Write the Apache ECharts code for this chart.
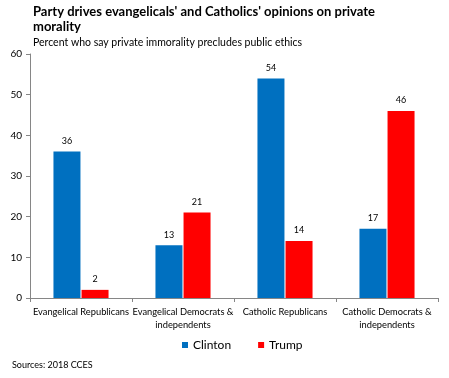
<!DOCTYPE html>
<html><head><meta charset="utf-8">
<script src="https://cdn.jsdelivr.net/npm/echarts@6/dist/echarts.min.js"></script>
<style>html,body{margin:0;padding:0;background:#fff}#c{width:449px;height:378px}</style>
</head><body><div id="c"></div>
<script>
const categories = ["Evangelical Republicans", "Evangelical Democrats &\nindependents", "Catholic Republicans", "Catholic Democrats &\nindependents"];
const clinton = [36, 13, 54, 17];
const trump = [2, 21, 14, 46];
const yTicks = [0, 10, 20, 30, 40, 50, 60];

const FONT = "Lato";
const chart = echarts.init(document.getElementById('c'));
chart.setOption({
  animation: false,
  textStyle: {fontFamily: FONT},
  title: [
    {text: "Party drives evangelicals' and Catholics' opinions on private\nmorality", left: 33, top: 4, padding: 0,
     textStyle: {fontFamily: FONT, fontSize: 13, fontWeight: 'bold', color: '#000', lineHeight: 15}},
    {text: "Percent who say private immorality precludes public ethics", left: 33, top: 37, padding: 0,
     textStyle: {fontFamily: FONT, fontSize: 10.5, fontWeight: 'normal', color: '#000', lineHeight: 12}},
    {text: "Sources: 2018 CCES", left: 12, top: 360, padding: 0,
     textStyle: {fontFamily: FONT, fontSize: 9, fontWeight: 'normal', color: '#000', lineHeight: 11}}
  ],
  legend: {
    data: ['Clinton', 'Trump'], top: 339, left: 182, padding: 0, itemWidth: 6, itemHeight: 6, itemGap: 27,
    icon: 'rect', textStyle: {fontFamily: FONT, fontSize: 12, color: '#000'}
  },
  grid: {left: 30, right: 11, top: 54, bottom: 80, containLabel: false},
  xAxis: {
    type: 'category', data: categories,
    axisLine: {lineStyle: {color: '#868686'}},
    axisTick: {show: true, length: 4, lineStyle: {color: '#868686'}},
    axisLabel: {fontFamily: FONT, fontSize: 9.3, color: '#000', lineHeight: 13, margin: 7, interval: 0}
  },
  yAxis: {
    type: 'value', min: yTicks[0], max: yTicks[yTicks.length - 1], interval: 10,
    axisLine: {show: true, lineStyle: {color: '#868686'}},
    axisTick: {show: true, length: 4, lineStyle: {color: '#868686'}},
    splitLine: {show: false},
    axisLabel: {fontFamily: FONT, fontSize: 10, color: '#000', margin: 8}
  },
  series: [
    {name: 'Clinton', type: 'bar', data: clinton, barWidth: 27, barGap: '4%',
     itemStyle: {color: '#0070C0'},
     label: {show: true, position: 'top', distance: 6, fontFamily: FONT, fontSize: 9, color: '#000'}},
    {name: 'Trump', type: 'bar', data: trump, barWidth: 27,
     itemStyle: {color: '#FF0000'},
     label: {show: true, position: 'top', distance: 6, fontFamily: FONT, fontSize: 9, color: '#000'}}
  ]
});
</script></body></html>
